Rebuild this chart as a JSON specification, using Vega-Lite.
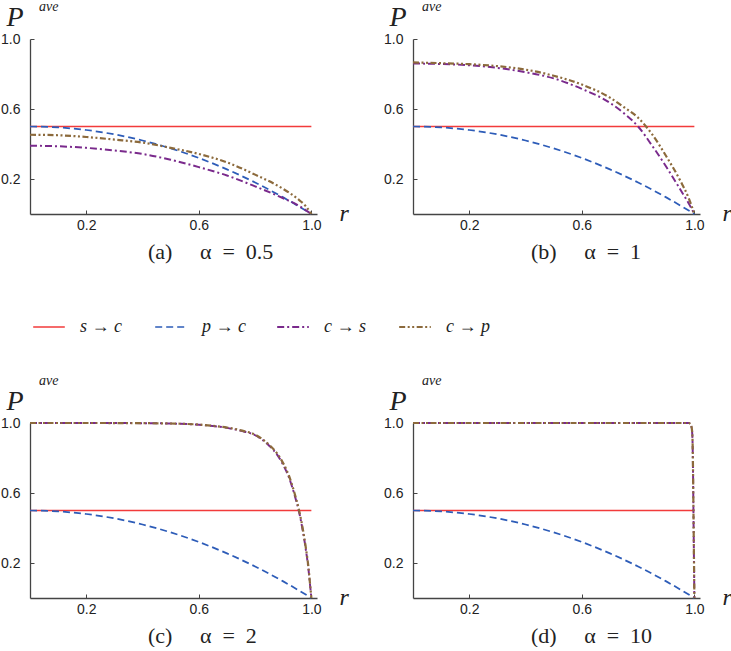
{
  "$schema": "https://vega.github.io/schema/vega-lite/v6.json",
  "description": "Average probability P ave against r for four values of alpha.",
  "background": "white",
  "padding": 0,
  "datasets": {
    "curves": [
      {"panel": "a", "series": "s → c", "r": 0, "p": 0.5},
      {"panel": "a", "series": "s → c", "r": 1, "p": 0.5},
      {"panel": "a", "series": "p → c", "r": 0, "p": 0.5},
      {"panel": "a", "series": "p → c", "r": 0.1, "p": 0.495},
      {"panel": "a", "series": "p → c", "r": 0.2, "p": 0.48},
      {"panel": "a", "series": "p → c", "r": 0.3, "p": 0.455},
      {"panel": "a", "series": "p → c", "r": 0.4, "p": 0.42},
      {"panel": "a", "series": "p → c", "r": 0.5, "p": 0.375},
      {"panel": "a", "series": "p → c", "r": 0.6, "p": 0.32},
      {"panel": "a", "series": "p → c", "r": 0.7, "p": 0.255},
      {"panel": "a", "series": "p → c", "r": 0.8, "p": 0.18},
      {"panel": "a", "series": "p → c", "r": 0.9, "p": 0.095},
      {"panel": "a", "series": "p → c", "r": 1, "p": 0},
      {"panel": "a", "series": "c → s", "r": 0, "p": 0.39},
      {"panel": "a", "series": "c → s", "r": 0.1, "p": 0.387},
      {"panel": "a", "series": "c → s", "r": 0.2, "p": 0.378},
      {"panel": "a", "series": "c → s", "r": 0.3, "p": 0.363},
      {"panel": "a", "series": "c → s", "r": 0.4, "p": 0.343},
      {"panel": "a", "series": "c → s", "r": 0.5, "p": 0.31},
      {"panel": "a", "series": "c → s", "r": 0.6, "p": 0.268},
      {"panel": "a", "series": "c → s", "r": 0.7, "p": 0.22},
      {"panel": "a", "series": "c → s", "r": 0.8, "p": 0.158},
      {"panel": "a", "series": "c → s", "r": 0.9, "p": 0.09},
      {"panel": "a", "series": "c → s", "r": 0.95, "p": 0.052},
      {"panel": "a", "series": "c → s", "r": 1, "p": 0},
      {"panel": "a", "series": "c → p", "r": 0, "p": 0.453},
      {"panel": "a", "series": "c → p", "r": 0.1, "p": 0.45},
      {"panel": "a", "series": "c → p", "r": 0.2, "p": 0.44},
      {"panel": "a", "series": "c → p", "r": 0.3, "p": 0.425},
      {"panel": "a", "series": "c → p", "r": 0.4, "p": 0.408},
      {"panel": "a", "series": "c → p", "r": 0.5, "p": 0.378},
      {"panel": "a", "series": "c → p", "r": 0.6, "p": 0.343},
      {"panel": "a", "series": "c → p", "r": 0.7, "p": 0.295},
      {"panel": "a", "series": "c → p", "r": 0.8, "p": 0.225},
      {"panel": "a", "series": "c → p", "r": 0.9, "p": 0.143},
      {"panel": "a", "series": "c → p", "r": 0.95, "p": 0.088},
      {"panel": "a", "series": "c → p", "r": 0.98, "p": 0.045},
      {"panel": "a", "series": "c → p", "r": 1, "p": 0},

      {"panel": "b", "series": "s → c", "r": 0, "p": 0.5},
      {"panel": "b", "series": "s → c", "r": 1, "p": 0.5},
      {"panel": "b", "series": "p → c", "r": 0, "p": 0.5},
      {"panel": "b", "series": "p → c", "r": 0.1, "p": 0.495},
      {"panel": "b", "series": "p → c", "r": 0.2, "p": 0.48},
      {"panel": "b", "series": "p → c", "r": 0.3, "p": 0.455},
      {"panel": "b", "series": "p → c", "r": 0.4, "p": 0.42},
      {"panel": "b", "series": "p → c", "r": 0.5, "p": 0.375},
      {"panel": "b", "series": "p → c", "r": 0.6, "p": 0.32},
      {"panel": "b", "series": "p → c", "r": 0.7, "p": 0.255},
      {"panel": "b", "series": "p → c", "r": 0.8, "p": 0.18},
      {"panel": "b", "series": "p → c", "r": 0.9, "p": 0.095},
      {"panel": "b", "series": "p → c", "r": 1, "p": 0},
      {"panel": "b", "series": "c → s", "r": 0, "p": 0.86},
      {"panel": "b", "series": "c → s", "r": 0.1, "p": 0.857},
      {"panel": "b", "series": "c → s", "r": 0.2, "p": 0.85},
      {"panel": "b", "series": "c → s", "r": 0.3, "p": 0.835},
      {"panel": "b", "series": "c → s", "r": 0.4, "p": 0.81},
      {"panel": "b", "series": "c → s", "r": 0.5, "p": 0.775},
      {"panel": "b", "series": "c → s", "r": 0.6, "p": 0.715},
      {"panel": "b", "series": "c → s", "r": 0.7, "p": 0.635},
      {"panel": "b", "series": "c → s", "r": 0.75, "p": 0.575},
      {"panel": "b", "series": "c → s", "r": 0.8, "p": 0.5},
      {"panel": "b", "series": "c → s", "r": 0.85, "p": 0.39},
      {"panel": "b", "series": "c → s", "r": 0.9, "p": 0.27},
      {"panel": "b", "series": "c → s", "r": 0.95, "p": 0.14},
      {"panel": "b", "series": "c → s", "r": 0.98, "p": 0.06},
      {"panel": "b", "series": "c → s", "r": 1, "p": 0},
      {"panel": "b", "series": "c → p", "r": 0, "p": 0.866},
      {"panel": "b", "series": "c → p", "r": 0.1, "p": 0.862},
      {"panel": "b", "series": "c → p", "r": 0.2, "p": 0.856},
      {"panel": "b", "series": "c → p", "r": 0.3, "p": 0.845},
      {"panel": "b", "series": "c → p", "r": 0.4, "p": 0.825},
      {"panel": "b", "series": "c → p", "r": 0.5, "p": 0.79},
      {"panel": "b", "series": "c → p", "r": 0.6, "p": 0.74},
      {"panel": "b", "series": "c → p", "r": 0.7, "p": 0.665},
      {"panel": "b", "series": "c → p", "r": 0.75, "p": 0.61},
      {"panel": "b", "series": "c → p", "r": 0.8, "p": 0.55},
      {"panel": "b", "series": "c → p", "r": 0.85, "p": 0.455},
      {"panel": "b", "series": "c → p", "r": 0.9, "p": 0.33},
      {"panel": "b", "series": "c → p", "r": 0.95, "p": 0.19},
      {"panel": "b", "series": "c → p", "r": 0.98, "p": 0.09},
      {"panel": "b", "series": "c → p", "r": 1, "p": 0},

      {"panel": "c", "series": "s → c", "r": 0, "p": 0.5},
      {"panel": "c", "series": "s → c", "r": 1, "p": 0.5},
      {"panel": "c", "series": "p → c", "r": 0, "p": 0.5},
      {"panel": "c", "series": "p → c", "r": 0.1, "p": 0.495},
      {"panel": "c", "series": "p → c", "r": 0.2, "p": 0.48},
      {"panel": "c", "series": "p → c", "r": 0.3, "p": 0.455},
      {"panel": "c", "series": "p → c", "r": 0.4, "p": 0.42},
      {"panel": "c", "series": "p → c", "r": 0.5, "p": 0.375},
      {"panel": "c", "series": "p → c", "r": 0.6, "p": 0.32},
      {"panel": "c", "series": "p → c", "r": 0.7, "p": 0.255},
      {"panel": "c", "series": "p → c", "r": 0.8, "p": 0.18},
      {"panel": "c", "series": "p → c", "r": 0.9, "p": 0.095},
      {"panel": "c", "series": "p → c", "r": 1, "p": 0},
      {"panel": "c", "series": "c → s", "r": 0, "p": 1},
      {"panel": "c", "series": "c → s", "r": 0.2, "p": 1},
      {"panel": "c", "series": "c → s", "r": 0.4, "p": 0.999},
      {"panel": "c", "series": "c → s", "r": 0.5, "p": 0.997},
      {"panel": "c", "series": "c → s", "r": 0.6, "p": 0.99},
      {"panel": "c", "series": "c → s", "r": 0.65, "p": 0.983},
      {"panel": "c", "series": "c → s", "r": 0.7, "p": 0.972},
      {"panel": "c", "series": "c → s", "r": 0.75, "p": 0.955},
      {"panel": "c", "series": "c → s", "r": 0.8, "p": 0.93},
      {"panel": "c", "series": "c → s", "r": 0.85, "p": 0.87},
      {"panel": "c", "series": "c → s", "r": 0.88, "p": 0.815},
      {"panel": "c", "series": "c → s", "r": 0.9, "p": 0.76},
      {"panel": "c", "series": "c → s", "r": 0.92, "p": 0.69},
      {"panel": "c", "series": "c → s", "r": 0.94, "p": 0.59},
      {"panel": "c", "series": "c → s", "r": 0.955, "p": 0.5},
      {"panel": "c", "series": "c → s", "r": 0.97, "p": 0.38},
      {"panel": "c", "series": "c → s", "r": 0.98, "p": 0.28},
      {"panel": "c", "series": "c → s", "r": 0.99, "p": 0.16},
      {"panel": "c", "series": "c → s", "r": 0.995, "p": 0.08},
      {"panel": "c", "series": "c → s", "r": 1, "p": 0},
      {"panel": "c", "series": "c → p", "r": 0, "p": 1},
      {"panel": "c", "series": "c → p", "r": 0.2, "p": 1},
      {"panel": "c", "series": "c → p", "r": 0.4, "p": 0.999},
      {"panel": "c", "series": "c → p", "r": 0.5, "p": 0.997},
      {"panel": "c", "series": "c → p", "r": 0.6, "p": 0.991},
      {"panel": "c", "series": "c → p", "r": 0.65, "p": 0.984},
      {"panel": "c", "series": "c → p", "r": 0.7, "p": 0.974},
      {"panel": "c", "series": "c → p", "r": 0.75, "p": 0.958},
      {"panel": "c", "series": "c → p", "r": 0.8, "p": 0.933},
      {"panel": "c", "series": "c → p", "r": 0.85, "p": 0.875},
      {"panel": "c", "series": "c → p", "r": 0.88, "p": 0.822},
      {"panel": "c", "series": "c → p", "r": 0.9, "p": 0.77},
      {"panel": "c", "series": "c → p", "r": 0.92, "p": 0.7},
      {"panel": "c", "series": "c → p", "r": 0.94, "p": 0.6},
      {"panel": "c", "series": "c → p", "r": 0.955, "p": 0.51},
      {"panel": "c", "series": "c → p", "r": 0.97, "p": 0.39},
      {"panel": "c", "series": "c → p", "r": 0.98, "p": 0.29},
      {"panel": "c", "series": "c → p", "r": 0.99, "p": 0.17},
      {"panel": "c", "series": "c → p", "r": 0.995, "p": 0.085},
      {"panel": "c", "series": "c → p", "r": 1, "p": 0},

      {"panel": "d", "series": "s → c", "r": 0, "p": 0.5},
      {"panel": "d", "series": "s → c", "r": 1, "p": 0.5},
      {"panel": "d", "series": "p → c", "r": 0, "p": 0.5},
      {"panel": "d", "series": "p → c", "r": 0.1, "p": 0.495},
      {"panel": "d", "series": "p → c", "r": 0.2, "p": 0.48},
      {"panel": "d", "series": "p → c", "r": 0.3, "p": 0.455},
      {"panel": "d", "series": "p → c", "r": 0.4, "p": 0.42},
      {"panel": "d", "series": "p → c", "r": 0.5, "p": 0.375},
      {"panel": "d", "series": "p → c", "r": 0.6, "p": 0.32},
      {"panel": "d", "series": "p → c", "r": 0.7, "p": 0.255},
      {"panel": "d", "series": "p → c", "r": 0.8, "p": 0.18},
      {"panel": "d", "series": "p → c", "r": 0.9, "p": 0.095},
      {"panel": "d", "series": "p → c", "r": 1, "p": 0},
      {"panel": "d", "series": "c → s", "r": 0, "p": 1},
      {"panel": "d", "series": "c → s", "r": 0.5, "p": 1},
      {"panel": "d", "series": "c → s", "r": 0.9, "p": 1},
      {"panel": "d", "series": "c → s", "r": 0.98, "p": 1},
      {"panel": "d", "series": "c → s", "r": 0.985, "p": 0.995},
      {"panel": "d", "series": "c → s", "r": 0.99, "p": 0.975},
      {"panel": "d", "series": "c → s", "r": 0.993, "p": 0.92},
      {"panel": "d", "series": "c → s", "r": 0.995, "p": 0.75},
      {"panel": "d", "series": "c → s", "r": 0.997, "p": 0.45},
      {"panel": "d", "series": "c → s", "r": 0.999, "p": 0.15},
      {"panel": "d", "series": "c → s", "r": 1, "p": 0},
      {"panel": "d", "series": "c → p", "r": 0, "p": 1},
      {"panel": "d", "series": "c → p", "r": 0.5, "p": 1},
      {"panel": "d", "series": "c → p", "r": 0.9, "p": 1},
      {"panel": "d", "series": "c → p", "r": 0.98, "p": 1},
      {"panel": "d", "series": "c → p", "r": 0.985, "p": 0.995},
      {"panel": "d", "series": "c → p", "r": 0.99, "p": 0.977},
      {"panel": "d", "series": "c → p", "r": 0.993, "p": 0.925},
      {"panel": "d", "series": "c → p", "r": 0.995, "p": 0.76},
      {"panel": "d", "series": "c → p", "r": 0.997, "p": 0.46},
      {"panel": "d", "series": "c → p", "r": 0.999, "p": 0.16},
      {"panel": "d", "series": "c → p", "r": 1, "p": 0}
    ]
  },
  "vconcat": [
    {
      "hconcat": [
        {
          "width": 287, "height": 175,
          "title": {"text": "(a)\u00a0\u00a0\u00a0\u00a0\u00a0α\u00a0\u00a0=\u00a0\u00a00.5"},
          "layer": [
            {
              "data": {"name": "curves"},
              "transform": [{"filter": "datum.panel === 'a'"}],
              "mark": {"type": "line", "interpolate": "monotone"},
              "encoding": {
                "x": {"field": "r", "type": "quantitative", "scale": {"domain": [0, 1.02], "nice": false}, "axis": {"values": [0.2, 0.6, 1.0], "format": ".1f", "title": "r"}},
                "y": {"field": "p", "type": "quantitative", "scale": {"domain": [0, 1], "nice": false}, "axis": {"values": [0.2, 0.6, 1.0], "format": ".1f", "title": "P"}},
                "color": {"field": "series", "type": "nominal", "scale": {"domain": ["s → c", "p → c", "c → s", "c → p"], "range": ["#f23b3b", "#2d5cb8", "#7a2a8c", "#8c6a3c"]}, "legend": {"title": null}},
                "strokeDash": {"field": "series", "type": "nominal", "scale": {"domain": ["s → c", "p → c", "c → s", "c → p"], "range": [[1, 0], [7, 4], [7, 3, 2, 3], [6, 2.5, 2, 2.5, 2, 2.5]]}, "legend": {"title": null}},
                "strokeWidth": {"field": "series", "type": "nominal", "scale": {"domain": ["s → c", "p → c", "c → s", "c → p"], "range": [1.5, 2.2, 2.2, 2.2]}, "legend": {"title": null}}
              }
            },
            {
              "data": {"values": [{"sup": "ave"}]},
              "mark": {"type": "text", "font": "Liberation Serif", "fontStyle": "italic", "fontSize": 14, "align": "left", "baseline": "alphabetic", "color": "#222"},
              "encoding": {
                "x": {"datum": 0.032, "type": "quantitative"},
                "y": {"datum": 1.16, "type": "quantitative"},
                "text": {"field": "sup"}
              }
            }
          ]
        },
        {
          "width": 287, "height": 175,
          "title": {"text": "(b)\u00a0\u00a0\u00a0\u00a0\u00a0α\u00a0\u00a0=\u00a0\u00a01"},
          "layer": [
            {
              "data": {"name": "curves"},
              "transform": [{"filter": "datum.panel === 'b'"}],
              "mark": {"type": "line", "interpolate": "monotone"},
              "encoding": {
                "x": {"field": "r", "type": "quantitative", "scale": {"domain": [0, 1.02], "nice": false}, "axis": {"values": [0.2, 0.6, 1.0], "format": ".1f", "title": "r"}},
                "y": {"field": "p", "type": "quantitative", "scale": {"domain": [0, 1], "nice": false}, "axis": {"values": [0.2, 0.6, 1.0], "format": ".1f", "title": "P"}},
                "color": {"field": "series", "type": "nominal", "scale": {"domain": ["s → c", "p → c", "c → s", "c → p"], "range": ["#f23b3b", "#2d5cb8", "#7a2a8c", "#8c6a3c"]}, "legend": {"title": null}},
                "strokeDash": {"field": "series", "type": "nominal", "scale": {"domain": ["s → c", "p → c", "c → s", "c → p"], "range": [[1, 0], [7, 4], [7, 3, 2, 3], [6, 2.5, 2, 2.5, 2, 2.5]]}, "legend": {"title": null}},
                "strokeWidth": {"field": "series", "type": "nominal", "scale": {"domain": ["s → c", "p → c", "c → s", "c → p"], "range": [1.5, 2.2, 2.2, 2.2]}, "legend": {"title": null}}
              }
            },
            {
              "data": {"values": [{"sup": "ave"}]},
              "mark": {"type": "text", "font": "Liberation Serif", "fontStyle": "italic", "fontSize": 14, "align": "left", "baseline": "alphabetic", "color": "#222"},
              "encoding": {
                "x": {"datum": 0.032, "type": "quantitative"},
                "y": {"datum": 1.16, "type": "quantitative"},
                "text": {"field": "sup"}
              }
            }
          ]
        }
      ]
    },
    {
      "hconcat": [
        {
          "width": 287, "height": 175,
          "title": {"text": "(c)\u00a0\u00a0\u00a0\u00a0\u00a0α\u00a0\u00a0=\u00a0\u00a02"},
          "layer": [
            {
              "data": {"name": "curves"},
              "transform": [{"filter": "datum.panel === 'c'"}],
              "mark": {"type": "line", "interpolate": "monotone"},
              "encoding": {
                "x": {"field": "r", "type": "quantitative", "scale": {"domain": [0, 1.02], "nice": false}, "axis": {"values": [0.2, 0.6, 1.0], "format": ".1f", "title": "r"}},
                "y": {"field": "p", "type": "quantitative", "scale": {"domain": [0, 1], "nice": false}, "axis": {"values": [0.2, 0.6, 1.0], "format": ".1f", "title": "P"}},
                "color": {"field": "series", "type": "nominal", "scale": {"domain": ["s → c", "p → c", "c → s", "c → p"], "range": ["#f23b3b", "#2d5cb8", "#7a2a8c", "#8c6a3c"]}, "legend": {"title": null}},
                "strokeDash": {"field": "series", "type": "nominal", "scale": {"domain": ["s → c", "p → c", "c → s", "c → p"], "range": [[1, 0], [7, 4], [7, 3, 2, 3], [6, 2.5, 2, 2.5, 2, 2.5]]}, "legend": {"title": null}},
                "strokeWidth": {"field": "series", "type": "nominal", "scale": {"domain": ["s → c", "p → c", "c → s", "c → p"], "range": [1.5, 2.2, 2.2, 2.2]}, "legend": {"title": null}}
              }
            },
            {
              "data": {"values": [{"sup": "ave"}]},
              "mark": {"type": "text", "font": "Liberation Serif", "fontStyle": "italic", "fontSize": 14, "align": "left", "baseline": "alphabetic", "color": "#222"},
              "encoding": {
                "x": {"datum": 0.032, "type": "quantitative"},
                "y": {"datum": 1.22, "type": "quantitative"},
                "text": {"field": "sup"}
              }
            }
          ]
        },
        {
          "width": 287, "height": 175,
          "title": {"text": "(d)\u00a0\u00a0\u00a0\u00a0\u00a0α\u00a0\u00a0=\u00a0\u00a010"},
          "layer": [
            {
              "data": {"name": "curves"},
              "transform": [{"filter": "datum.panel === 'd'"}],
              "mark": {"type": "line", "interpolate": "monotone"},
              "encoding": {
                "x": {"field": "r", "type": "quantitative", "scale": {"domain": [0, 1.02], "nice": false}, "axis": {"values": [0.2, 0.6, 1.0], "format": ".1f", "title": "r"}},
                "y": {"field": "p", "type": "quantitative", "scale": {"domain": [0, 1], "nice": false}, "axis": {"values": [0.2, 0.6, 1.0], "format": ".1f", "title": "P"}},
                "color": {"field": "series", "type": "nominal", "scale": {"domain": ["s → c", "p → c", "c → s", "c → p"], "range": ["#f23b3b", "#2d5cb8", "#7a2a8c", "#8c6a3c"]}, "legend": {"title": null}},
                "strokeDash": {"field": "series", "type": "nominal", "scale": {"domain": ["s → c", "p → c", "c → s", "c → p"], "range": [[1, 0], [7, 4], [7, 3, 2, 3], [6, 2.5, 2, 2.5, 2, 2.5]]}, "legend": {"title": null}},
                "strokeWidth": {"field": "series", "type": "nominal", "scale": {"domain": ["s → c", "p → c", "c → s", "c → p"], "range": [1.5, 2.2, 2.2, 2.2]}, "legend": {"title": null}}
              }
            },
            {
              "data": {"values": [{"sup": "ave"}]},
              "mark": {"type": "text", "font": "Liberation Serif", "fontStyle": "italic", "fontSize": 14, "align": "left", "baseline": "alphabetic", "color": "#222"},
              "encoding": {
                "x": {"datum": 0.032, "type": "quantitative"},
                "y": {"datum": 1.22, "type": "quantitative"},
                "text": {"field": "sup"}
              }
            }
          ]
        }
      ]
    }
  ],
  "spacing": 110,
  "config": {
    "view": {"stroke": null},
    "concat": {"spacing": 34},
    "axis": {
      "grid": false,
      "domainColor": "#444",
      "domainWidth": 1.3,
      "tickColor": "#444",
      "tickSize": -4,
      "labelFont": "Liberation Sans",
      "labelFontSize": 14,
      "labelColor": "#222",
      "titleColor": "#222",
      "titleFont": "Liberation Serif",
      "titleFontStyle": "italic",
      "titleFontWeight": "normal",
      "titleAngle": 0,
      "titleAlign": "left",
      "titleBaseline": "alphabetic"
    },
    "axisX": {"labelPadding": 8, "titleFontSize": 24, "titleX": 309, "titleY": 6},
    "axisY": {"labelPadding": 14, "titleFontSize": 28, "titleX": -24, "titleY": -14},
    "title": {
      "font": "Liberation Serif",
      "fontSize": 22,
      "fontWeight": "normal",
      "color": "#222",
      "orient": "bottom",
      "anchor": "start",
      "frame": "group",
      "dx": 118,
      "offset": 10
    },
    "legend": {
      "orient": "none",
      "legendX": 2,
      "legendY": 271,
      "direction": "horizontal",
      "columns": 4,
      "gridAlign": "all",
      "symbolType": "stroke",
      "symbolSize": 1000,
      "labelFont": "Liberation Serif",
      "labelFontStyle": "italic",
      "labelFontSize": 18,
      "labelColor": "#222",
      "labelOffset": 14,
      "columnPadding": 26
    }
  }
}
